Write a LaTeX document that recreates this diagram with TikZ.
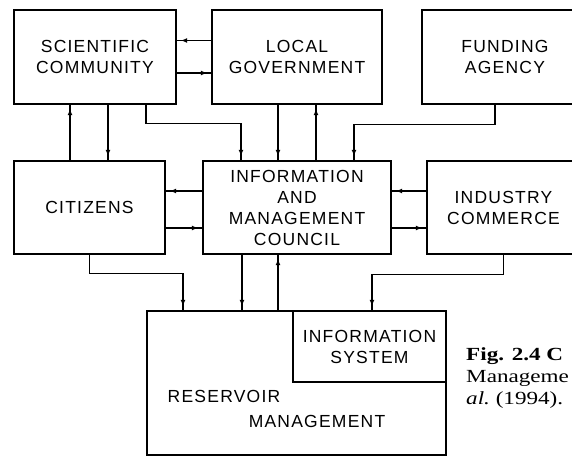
\documentclass[tikz,border=0pt]{standalone}
\usepackage{fontspec}
\usetikzlibrary{arrows.meta,decorations.markings}
\newfontfamily\boxfont[LetterSpace=7]{Liberation Sans}
\newfontfamily\capfont[FakeStretch=1.25]{Liberation Serif}
\tikzset{
  box/.style={draw, line width=1.4pt, inner sep=0pt, align=center,
    font=\boxfont\fontsize{17.5}{21}\selectfont},
  lbl/.style={inner sep=0pt, font=\boxfont\fontsize{17.5}{21}\selectfont},
  captxt/.style={inner sep=0pt, anchor=base west, font=\capfont\fontsize{18.5}{21.5}\selectfont},
  arr/.style={line width=1.3pt, postaction={decorate},
    decoration={markings, mark=at position -4pt with {\arrow{Latex[length=6.5pt,width=5pt]}}}}
}
\begin{document}
\begin{tikzpicture}[x=1pt,y=-1pt]
\useasboundingbox (0,0) rectangle (572,457);
\clip (0,0) rectangle (572,457);
% top row
\node[box, minimum width=162pt, minimum height=94pt] (SC) at (95,57) {SCIENTIFIC\\COMMUNITY};
\node[box, minimum width=170pt, minimum height=94pt] (LG) at (297,57) {LOCAL\\GOVERNMENT};
\node[box, minimum width=166pt, minimum height=94pt] (FA) at (505,57) {FUNDING\\AGENCY};
% middle row
\node[box, minimum width=151pt, minimum height=93pt] (Cit) at (89.5,207.5) {CITIZENS};
\node[box, minimum width=188pt, minimum height=93pt] (Council) at (297,207.5) {INFORMATION\\AND\\MANAGEMENT\\COUNCIL};
\node[box, minimum width=153pt, minimum height=93pt] (Ind) at (503.5,207.5) {INDUSTRY\\COMMERCE};
% bottom
\node[box, minimum width=299pt, minimum height=144pt] (Res) at (296.5,383) {};
\node[box, minimum width=153pt, minimum height=71pt] (Info) at (369.5,346.5) {INFORMATION\\SYSTEM};
\node[lbl] (resl1) at (224,396.5) {RESERVOIR};
\node[lbl] (resl2) at (317,421.5) {MANAGEMENT};
% caption
\node[captxt] (cap1) at (466,360) {\bfseries Fig. 2.4 C};
\node[captxt] (cap2) at (466,382) {Manageme};
\node[captxt] (cap3) at (466,404) {\itshape al.\upshape\ (1994).};
% connectors top
\draw[arr] ([yshift=16.5pt]LG.west) -- ([yshift=16.5pt]SC.east);
\draw[arr] ([yshift=-16pt]SC.east) -- ([yshift=-16pt]LG.west);
\draw[arr] ([xshift=-19.5pt]Cit.north) -- ([xshift=-25pt]SC.south);
\draw[arr] ([xshift=13pt]SC.south) -- ([xshift=18.5pt]Cit.north);
\draw[arr] ([xshift=51pt]SC.south) -- ++(0,19) -| ([xshift=-56pt]Council.north);
\draw[arr] ([xshift=-19pt]LG.south) -- ([xshift=-19pt]Council.north);
\draw[arr] ([xshift=19pt]Council.north) -- ([xshift=19pt]LG.south);
\draw[arr] ([xshift=-10pt]FA.south) -- ++(0,20) -| ([xshift=57pt]Council.north);
% middle
\draw[arr] ([yshift=16.5pt]Council.west) -- ([yshift=16.5pt]Cit.east);
\draw[arr] ([yshift=-20.5pt]Cit.east) -- ([yshift=-20.5pt]Council.west);
\draw[arr] ([yshift=16.5pt]Ind.west) -- ([yshift=16.5pt]Council.east);
\draw[arr] ([yshift=-20.5pt]Council.east) -- ([yshift=-20.5pt]Ind.west);
% bottom
\draw[arr] (Cit.south) -- ++(0,19) -| ([xshift=-113.5pt]Res.north);
\draw[arr] ([xshift=-55pt]Council.south) -- ([xshift=-54.5pt]Res.north);
\draw[arr] ([xshift=-18.5pt]Res.north) -- ([xshift=-19pt]Council.south);
\draw[arr] (Ind.south) -- ++(0,20) -| ([xshift=2.5pt]Info.north);
\end{tikzpicture}
\end{document}
